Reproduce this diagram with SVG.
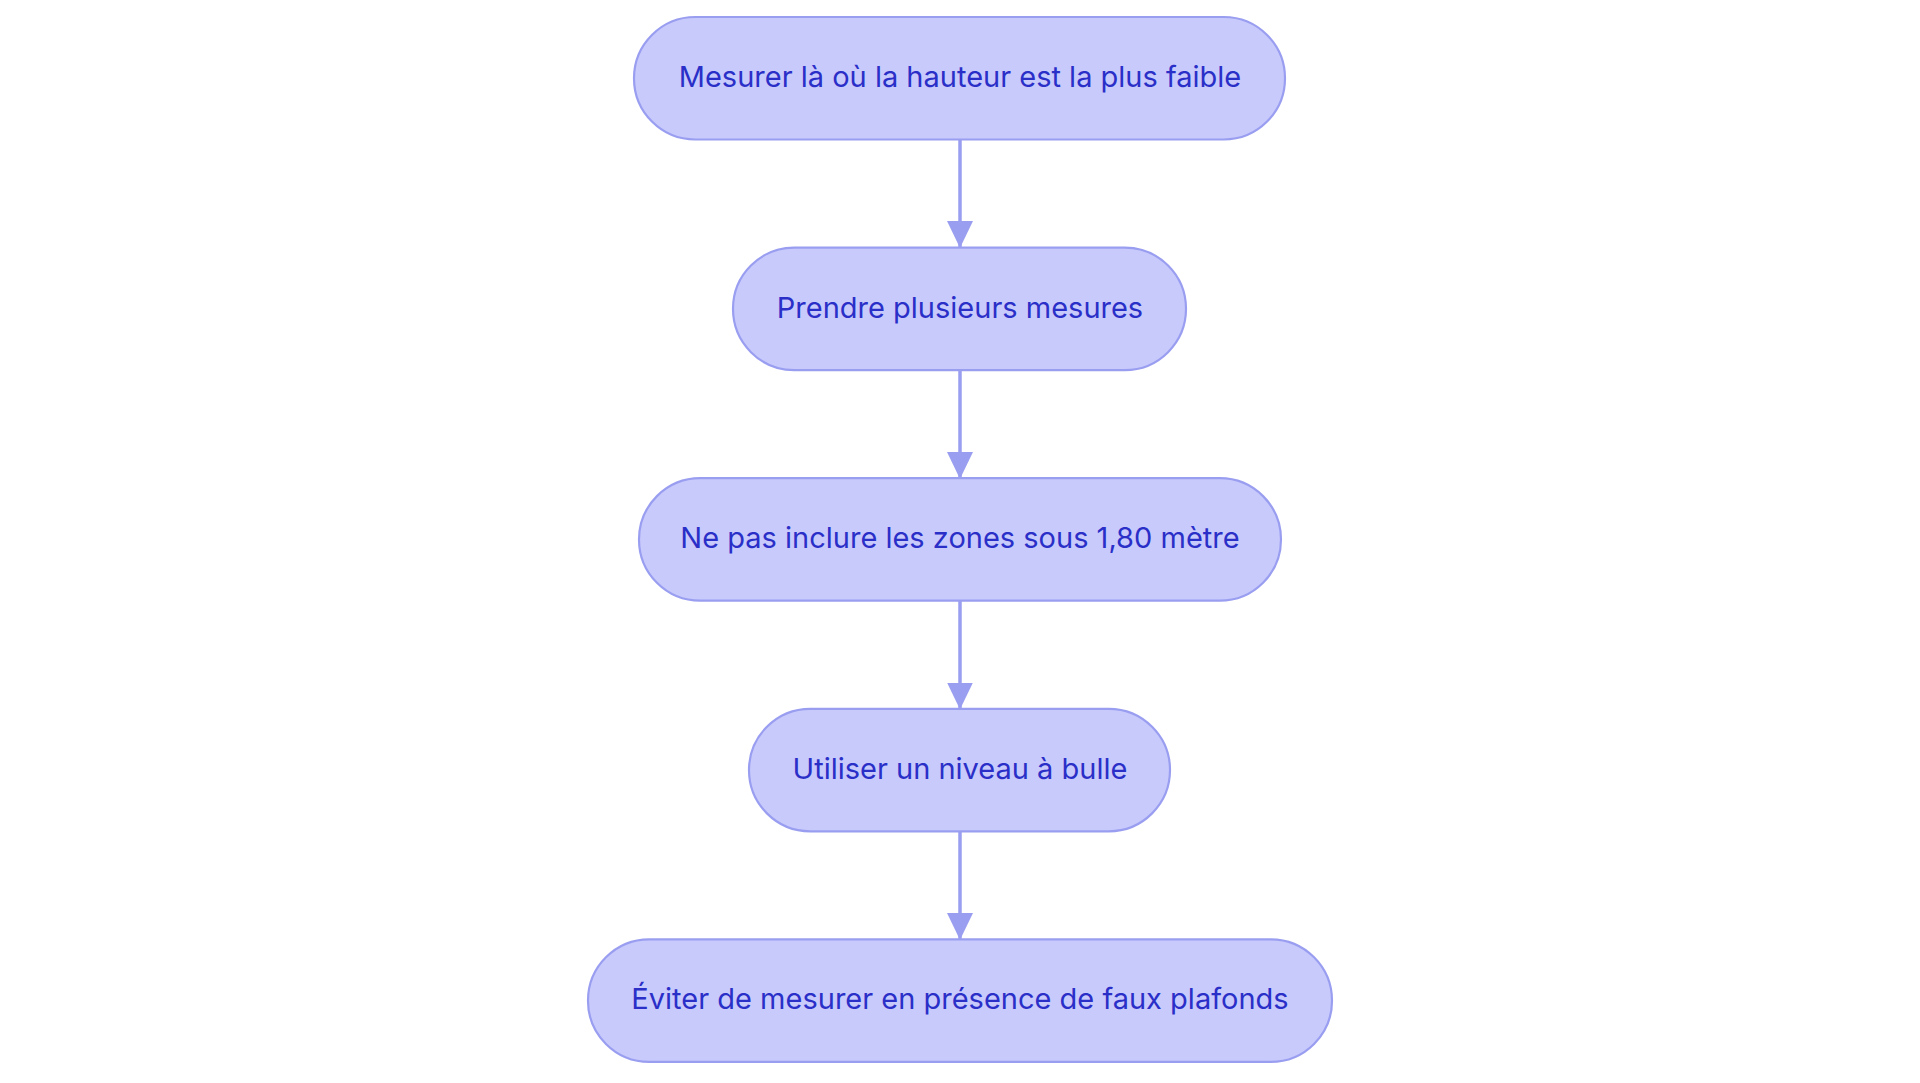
<svg xmlns="http://www.w3.org/2000/svg" width="1920" height="1083" viewBox="0 0 1920 1083">
<defs>
<style>
.node rect{fill:#c8cafc;stroke:#9a9ef0;stroke-width:2.2}
.node text{font-family:Inter,"Noto Sans","Liberation Sans",sans-serif;font-size:29px;fill:#2a2fc8;text-anchor:middle}
.edge{stroke:#9a9ef0;stroke-width:3.5;fill:none}
</style>
<marker id="arrow" viewBox="0 0 26 27" refX="26" refY="13" markerWidth="26" markerHeight="27" markerUnits="userSpaceOnUse" orient="auto">
<path d="M0,0 L27,13 L0,26 Z" fill="#9a9ef0"/>
</marker>
</defs>
<rect width="1920" height="1083" fill="#ffffff"/>
<g id="connectors">
<line class="edge" x1="960" y1="139" x2="960" y2="247" marker-end="url(#arrow)"/>
<line class="edge" x1="960" y1="370" x2="960" y2="478" marker-end="url(#arrow)"/>
<line class="edge" x1="960" y1="600" x2="960" y2="708.5" marker-end="url(#arrow)"/>
<line class="edge" x1="960" y1="831" x2="960" y2="939" marker-end="url(#arrow)"/>
</g>
<g id="n1" class="node">
<rect x="634" y="17" width="651" height="122.5" rx="61.25" ry="61.25"/>
<text x="960" y="87">Mesurer là où la hauteur est la plus faible</text>
</g>
<g id="n2" class="node">
<rect x="733" y="247.6" width="453" height="122.5" rx="61.25" ry="61.25"/>
<text x="960" y="317.6">Prendre plusieurs mesures</text>
</g>
<g id="n3" class="node">
<rect x="639" y="478.2" width="642" height="122.5" rx="61.25" ry="61.25"/>
<text x="960" y="548.2">Ne pas inclure les zones sous 1,80 mètre</text>
</g>
<g id="n4" class="node">
<rect x="749" y="708.8" width="421" height="122.5" rx="61.25" ry="61.25"/>
<text x="960" y="778.8">Utiliser un niveau à bulle</text>
</g>
<g id="n5" class="node">
<rect x="588" y="939.4" width="744" height="122.5" rx="61.25" ry="61.25"/>
<text x="960" y="1009.4">Éviter de mesurer en présence de faux plafonds</text>
</g>
</svg>
